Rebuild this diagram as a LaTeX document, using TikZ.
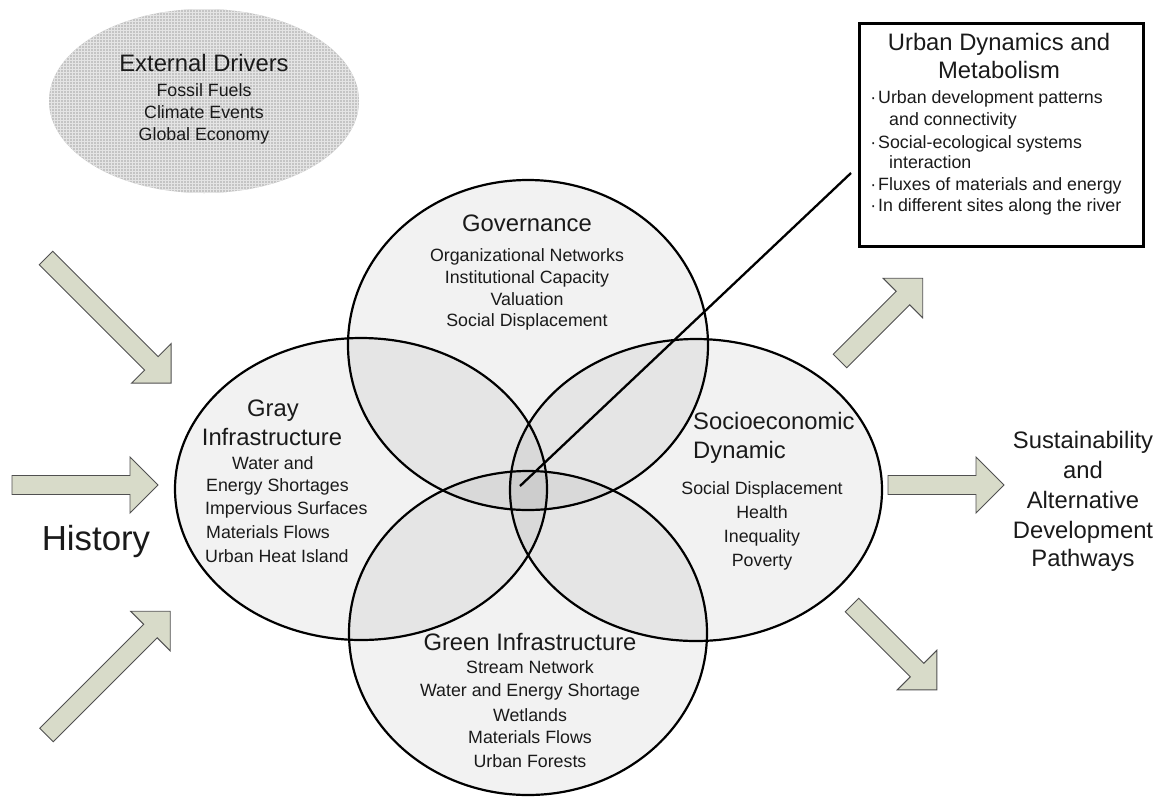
\documentclass[tikz,border=0pt]{standalone}
\usepackage{fontspec}
\setmainfont{Liberation Sans}
\usetikzlibrary{shapes.geometric,patterns}
\definecolor{txt}{HTML}{1A1A1A}
\definecolor{arrfill}{HTML}{D8DBC9}
\definecolor{arrline}{HTML}{505050}
\definecolor{drvfill}{HTML}{C4C4C4}
\definecolor{drvgrid}{HTML}{E4E4E4}
\begin{document}
\begin{tikzpicture}[x=1pt,y=-1pt,
  venn/.style={ellipse, draw=black, line width=2.2pt, fill=black, fill opacity=0.05, inner sep=0},
  ttl/.style={font=\fontsize{23.8}{28}\selectfont, text=txt, inner sep=0, text height=0.72em, text depth=0pt},
  itm/.style={font=\fontsize{17.8}{21}\selectfont, text=txt, inner sep=0, text height=0.72em, text depth=0pt},
  bigtxt/.style={font=\fontsize{34.8}{40}\selectfont, text=txt, inner sep=0, text height=0.72em, text depth=0pt},
  blockarr/.pic={\draw[fill=arrfill, draw=arrline, line width=0.9pt, line join=miter]
     (0,-9.5) -- ({#1-28},-9.5) -- ({#1-28},-28) -- (#1,0) -- ({#1-28},28) -- ({#1-28},9.5) -- (0,9.5) -- cycle;}
]
\fill[white] (0,0) rectangle (1158,801);
\useasboundingbox (0,0) rectangle (1158,801);

% External drivers
\node[ellipse, minimum width=310pt, minimum height=184pt, inner sep=0, fill=drvfill] (drv) at (204,101) {};
\fill[pattern=grid, pattern color=drvgrid] (204,101) ellipse [x radius=155, y radius=92];
\node[ttl] (drvt) at (204,68) {External Drivers};
\node[itm] (drv1) at (204,93) {Fossil Fuels};
\node[itm] (drv2) at (204,115) {Climate Events};
\node[itm] (drv3) at (204,137) {Global Economy};

% block arrows
\pic[rotate=-45] at (46,258) {blockarr=177};
\pic at (12,485) {blockarr=146};
\pic[rotate=45] at (46.5,735) {blockarr=175};
\pic[rotate=45] at (840,361) {blockarr=117};
\pic at (888,485) {blockarr=116};
\pic[rotate=-45] at (852,605) {blockarr=120};

% Venn ellipses
\node[venn, minimum width=372pt, minimum height=302pt] (gray) at (361,489) {};
\node[venn, minimum width=372pt, minimum height=302pt] (socio) at (696,490) {};
\node[venn, minimum width=360pt, minimum height=330pt] (gov) at (528,345) {};
\node[venn, minimum width=358pt, minimum height=324pt] (green) at (528,633) {};

% connector
\coordinate (c0) at (520,486);
\coordinate (c1) at (851,173);
\draw[line width=2.3pt, black] (c0) -- (c1);

% Governance
\node[ttl] (govt) at (527,228) {Governance};
\node[itm] (gov1) at (527,258) {Organizational Networks};
\node[itm] (gov2) at (527,280) {Institutional Capacity};
\node[itm] (gov3) at (527,302) {Valuation};
\node[itm] (gov4) at (527,323) {Social Displacement};

% Gray
\node[ttl] (grayt1) at (273,413) {Gray};
\node[ttl] (grayt2) at (272,442) {Infrastructure};
\node[itm, anchor=west] (gray1) at (232,466) {Water and};
\node[itm, anchor=west] (gray2) at (206,488) {Energy Shortages};
\node[itm, anchor=west] (gray3) at (205,511) {Impervious Surfaces};
\node[itm, anchor=west] (gray4) at (206,535) {Materials Flows};
\node[itm, anchor=west] (gray5) at (205,559) {Urban Heat Island};

% Socio
\node[ttl, anchor=west] (sociot1) at (693,426) {Socioeconomic};
\node[ttl, anchor=west] (sociot2) at (693,455) {Dynamic};
\node[itm] (socio1) at (762,491) {Social Displacement};
\node[itm] (socio2) at (762,515) {Health};
\node[itm] (socio3) at (762,539) {Inequality};
\node[itm] (socio4) at (762,563) {Poverty};

% Green
\node[ttl] (greent) at (530,647) {Green Infrastructure};
\node[itm] (green1) at (530,670) {Stream Network};
\node[itm] (green2) at (530,693) {Water and Energy Shortage};
\node[itm] (green3) at (530,718) {Wetlands};
\node[itm] (green4) at (530,740) {Materials Flows};
\node[itm] (green5) at (530,764) {Urban Forests};

% History
\node[bigtxt] (hist) at (96,547) {History};

% Sustainability
\node[ttl] (sus1) at (1083,445) {Sustainability};
\node[ttl] (sus2) at (1083,475) {and};
\node[ttl] (sus3) at (1083,505) {Alternative};
\node[ttl] (sus4) at (1083,535) {Development};
\node[ttl] (sus5) at (1083,563) {Pathways};

% Urban dynamics box
\node[draw=black, line width=3pt, fill=white, minimum width=284pt, minimum height=223pt, inner sep=0] (box) at (1001,134.5) {};
\node[ttl] (boxt1) at (999,47) {Urban Dynamics and};
\node[ttl] (boxt2) at (999,75) {Metabolism};
\node[itm, anchor=west] (box1) at (878,100) {\llap{\textperiodcentered\hspace{2pt}}Urban development patterns};
\node[itm, anchor=west] (box2) at (889,122) {and connectivity};
\node[itm, anchor=west] (box3) at (878,145) {\llap{\textperiodcentered\hspace{2pt}}Social-ecological systems};
\node[itm, anchor=west] (box4) at (889,165) {interaction};
\node[itm, anchor=west] (box5) at (878,187) {\llap{\textperiodcentered\hspace{2pt}}Fluxes of materials and energy};
\node[itm, anchor=west] (box6) at (878,208) {\llap{\textperiodcentered\hspace{2pt}}In different sites along the river};
\end{tikzpicture}
\end{document}
